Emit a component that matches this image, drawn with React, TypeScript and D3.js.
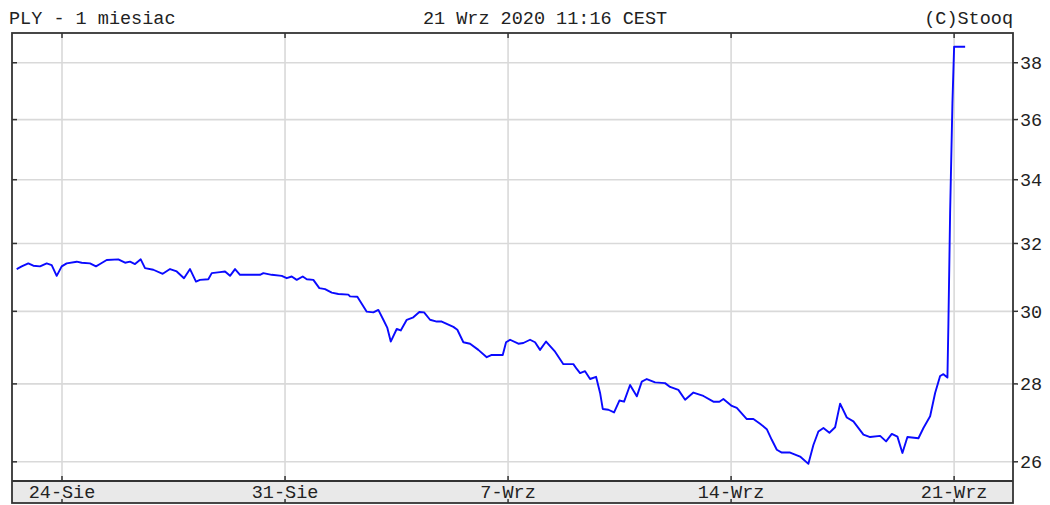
import * as d3 from "d3";

// trading-day offset from 24-Sie (Monday) and price
const dayOffsets = [
  -1.016, -0.904, -0.756, -0.643, -0.493, -0.343, -0.231, -0.119, -0.007, 0.105,
  0.33, 0.442, 0.628, 0.762, 0.852, 1.002, 1.262, 1.413, 1.525, 1.637,
  1.765, 1.861, 2.047, 2.258, 2.422, 2.572, 2.735, 2.87, 3.004, 3.094,
  3.28, 3.357, 3.543, 3.655, 3.767, 3.879, 3.991, 4.439, 4.514, 4.702,
  4.926, 5.038, 5.15, 5.262, 5.397, 5.487, 5.635, 5.769, 5.897, 6.047,
  6.195, 6.419, 6.457, 6.621, 6.832, 6.98, 7.092, 7.204, 7.294, 7.37,
  7.504, 7.594, 7.729, 7.877, 8.011, 8.117, 8.251, 8.401, 8.513, 8.774,
  8.863, 8.998, 9.148, 9.334, 9.522, 9.635, 9.881, 9.955, 10.045, 10.231,
  10.343, 10.493, 10.605, 10.717, 10.852, 11.054, 11.24, 11.464, 11.54, 11.614,
  11.726, 11.839, 11.973, 12.063, 12.123, 12.249, 12.377, 12.496, 12.601, 12.735,
  12.886, 12.998, 13.11, 13.296, 13.52, 13.632, 13.818, 13.969, 14.155, 14.379,
  14.603, 14.738, 14.827, 15.016, 15.128, 15.352, 15.5, 15.65, 15.8, 15.912,
  16.025, 16.137, 16.323, 16.547, 16.733, 16.845, 16.957, 17.07, 17.204, 17.332,
  17.444, 17.594, 17.742, 17.967, 18.117, 18.341, 18.475, 18.603, 18.729, 18.841,
  18.953, 19.2, 19.312, 19.462, 19.574, 19.686, 19.76, 19.85, 19.872, 19.91,
  19.962, 20.0, 20.247,
];

const prices = [
  31.23, 31.31, 31.4, 31.33, 31.31, 31.4, 31.35, 31.03, 31.31, 31.4,
  31.45, 31.42, 31.4, 31.31, 31.38, 31.5, 31.52, 31.42, 31.45, 31.38,
  31.52, 31.26, 31.21, 31.09, 31.23, 31.16, 30.96, 31.23, 30.86, 30.91,
  30.93, 31.11, 31.14, 31.16, 31.03, 31.23, 31.06, 31.06, 31.11, 31.06,
  31.03, 30.96, 31.01, 30.91, 31.01, 30.93, 30.91, 30.67, 30.64, 30.54,
  30.5, 30.48, 30.43, 30.42, 29.99, 29.97, 30.04, 29.76, 29.53, 29.15,
  29.5, 29.46, 29.76, 29.83, 29.98, 29.97, 29.76, 29.71, 29.71, 29.56,
  29.48, 29.13, 29.09, 28.92, 28.72, 28.78, 28.78, 29.13, 29.2, 29.09,
  29.11, 29.2, 29.13, 28.92, 29.15, 28.87, 28.53, 28.53, 28.4, 28.29,
  28.34, 28.13, 28.19, 27.76, 27.34, 27.32, 27.25, 27.56, 27.53, 27.97,
  27.67, 28.06, 28.13, 28.04, 28.02, 27.92, 27.84, 27.58, 27.77, 27.68,
  27.53, 27.53, 27.6, 27.42, 27.37, 27.08, 27.08, 26.96, 26.82, 26.55,
  26.3, 26.23, 26.23, 26.13, 25.95, 26.42, 26.76, 26.85, 26.73, 26.87,
  27.48, 27.12, 27.02, 26.68, 26.62, 26.65, 26.51, 26.7, 26.63, 26.22,
  26.62, 26.59, 26.85, 27.15, 27.76, 28.21, 28.26, 28.17, 29.66, 32.93,
  36.56, 38.58, 38.58,
];

const xTickDays = [0, 5, 10, 15, 20];
const xTickLabels = ["24-Sie", "31-Sie", "7-Wrz", "14-Wrz", "21-Wrz"];
const yTicks = [26, 28, 30, 32, 34, 36, 38];

const titleLeft = "PLY - 1 miesiac";
const titleCenter = "21 Wrz 2020 11:16 CEST";
const titleRight = "(C)Stooq";

const W = 1050;
const H = 505;
const left = 12;
const right = 1013;
const top = 33;
const plotBottom = 481;
const bandBottom = 503;
const font = "'Liberation Mono', 'DejaVu Sans Mono', monospace";

export default function App() {
  const x = d3.scaleLinear().domain([-1.121, 21.32]).range([left, right]);
  const y = d3.scaleLog().domain([25.53, 39.09]).range([plotBottom, top]);

  const points: [number, number][] = dayOffsets.map((d, i) => [d, prices[i]]);
  const line = d3
    .line<[number, number]>()
    .x(d => x(d[0]))
    .y(d => y(d[1]));

  return (
    <svg
      width={W}
      height={H}
      style={{ position: "absolute", left: 0, top: 0, background: "#fff" }}
    >
      <rect x={0} y={0} width={W} height={H} fill="#fff" />

      {/* header */}
      <text x={9} y={24} fontFamily={font} fontSize={18.5} fill="#222">
        {titleLeft}
      </text>
      <text x={545} y={24} fontFamily={font} fontSize={18.5} fill="#222" textAnchor="middle">
        {titleCenter}
      </text>
      <text x={right} y={24} fontFamily={font} fontSize={18.5} fill="#222" textAnchor="end">
        {titleRight}
      </text>

      {/* date band */}
      <rect x={left} y={plotBottom} width={right - left} height={bandBottom - plotBottom} fill="#e9e9e9" />

      {/* grid */}
      {yTicks.map(t => (
        <line key={"gy" + t} x1={left} x2={right} y1={y(t)} y2={y(t)} stroke="#d9d9d9" strokeWidth={1.6} />
      ))}
      {xTickDays.map(t => (
        <line key={"gx" + t} x1={x(t)} x2={x(t)} y1={top} y2={plotBottom} stroke="#d9d9d9" strokeWidth={1.6} />
      ))}

      {/* price line */}
      <path d={line(points) ?? ""} fill="none" stroke="#0a0aff" strokeWidth={1.9} strokeLinejoin="round" />

      {/* frame */}
      <rect x={left} y={top} width={right - left} height={bandBottom - top} fill="none" stroke="#333" strokeWidth={1.8} />
      <line x1={left} x2={right} y1={plotBottom} y2={plotBottom} stroke="#333" strokeWidth={1.8} />

      {/* x ticks and labels */}
      {xTickDays.map((t, i) => (
        <g key={"xt" + t}>
          <line x1={x(t)} x2={x(t)} y1={top} y2={top + 5} stroke="#333" strokeWidth={1.5} />
          <line x1={x(t)} x2={x(t)} y1={plotBottom - 5} y2={plotBottom} stroke="#333" strokeWidth={1.5} />
          <line x1={x(t)} x2={x(t)} y1={bandBottom - 4} y2={bandBottom} stroke="#333" strokeWidth={1.5} />
          <text x={x(t)} y={498} fontFamily={font} fontSize={18.5} fill="#222" textAnchor="middle">
            {xTickLabels[i]}
          </text>
        </g>
      ))}

      {/* y ticks and labels */}
      {yTicks.map(t => (
        <g key={"yt" + t}>
          <line x1={left} x2={left + 5} y1={y(t)} y2={y(t)} stroke="#333" strokeWidth={1.5} />
          <line x1={right} x2={right + 5} y1={y(t)} y2={y(t)} stroke="#333" strokeWidth={1.5} />
          <text x={1020} y={y(t) + 6.5} fontFamily={font} fontSize={18.5} fill="#222">
            {t}
          </text>
        </g>
      ))}
    </svg>
  );
}
